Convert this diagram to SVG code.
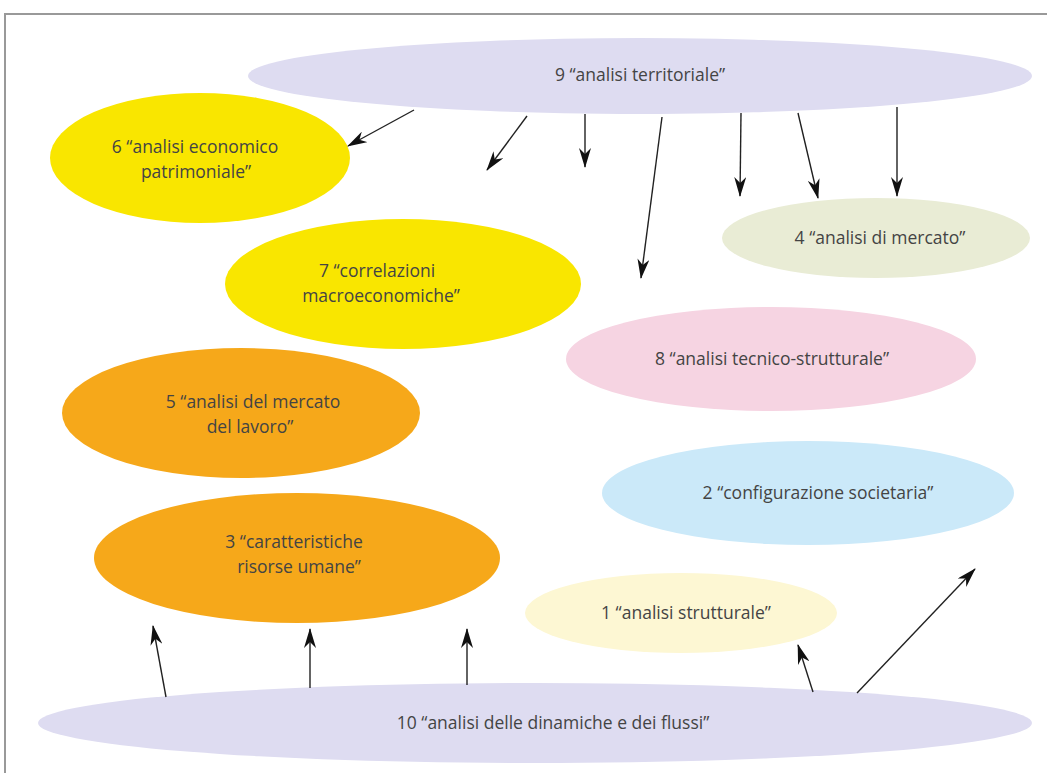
<svg xmlns="http://www.w3.org/2000/svg" width="1047" height="773" viewBox="0 0 1047 773">
<style>
.t{font-family:"Open Sans","DejaVu Sans",sans-serif;font-size:17.5px;fill:#444;text-anchor:middle}
.c{stroke:#222;stroke-width:1.4;fill:none;marker-end:url(#ah)}
</style>
<defs>
<marker id="ah" viewBox="0 0 20 12" refX="19" refY="6" markerWidth="20" markerHeight="12" markerUnits="userSpaceOnUse" orient="auto">
<path d="M0,0 L20,6 L0,12 L6,6 Z" fill="#111"/>
</marker>
</defs>
<rect width="1047" height="773" fill="#fff"/>
<path d="M5,773 V14 H1047" stroke="#999" stroke-width="2" fill="none"/>
<g id="n9"><ellipse cx="640" cy="76" rx="392" ry="38" fill="#dedcf1"/><text class="t" x="640" y="81">9 “analisi territoriale”</text></g>
<g id="n6"><ellipse cx="200" cy="158" rx="150" ry="65" fill="#f9e600"/><text class="t" x="195" y="153">6 “analisi economico</text><text class="t" x="196" y="178">patrimoniale”</text></g>
<g id="n7"><ellipse cx="403" cy="284" rx="178" ry="65" fill="#f9e600"/><text class="t" x="377" y="277">7 “correlazioni</text><text class="t" x="381" y="302">macroeconomiche”</text></g>
<g id="n4"><ellipse cx="876" cy="238" rx="154" ry="40" fill="#e9ecd5"/><text class="t" x="880" y="244">4 “analisi di mercato”</text></g>
<g id="n8"><ellipse cx="771" cy="359" rx="205" ry="52" fill="#f6d4e2"/><text class="t" x="772" y="365">8 “analisi tecnico-strutturale”</text></g>
<g id="n5"><ellipse cx="241" cy="413" rx="179" ry="65" fill="#f6a81a"/><text class="t" x="253" y="408">5 “analisi del mercato</text><text class="t" x="250" y="433">del lavoro”</text></g>
<g id="n2"><ellipse cx="808" cy="493" rx="206" ry="52" fill="#cbe9f9"/><text class="t" x="818" y="499">2 “configurazione societaria”</text></g>
<g id="n3"><ellipse cx="297" cy="558" rx="203" ry="65" fill="#f6a81a"/><text class="t" x="294" y="548">3 “caratteristiche</text><text class="t" x="299" y="573">risorse umane”</text></g>
<g id="n1"><ellipse cx="681" cy="613" rx="156" ry="40" fill="#fdf7d3"/><text class="t" x="686" y="619">1 “analisi strutturale”</text></g>
<g id="n10"><ellipse cx="535" cy="723" rx="497" ry="40" fill="#dedcf1"/><text class="t" x="553" y="729">10 “analisi delle dinamiche e dei flussi”</text></g>
<g id="connectors">
<line class="c" x1="414" y1="110" x2="348" y2="146"/>
<line class="c" x1="527" y1="116" x2="487" y2="170"/>
<line class="c" x1="585" y1="114" x2="585" y2="167"/>
<line class="c" x1="662" y1="117" x2="641" y2="278"/>
<line class="c" x1="741" y1="113" x2="740" y2="196"/>
<line class="c" x1="798" y1="113" x2="818" y2="198"/>
<line class="c" x1="897" y1="107" x2="897" y2="196"/>
<line class="c" x1="166" y1="697" x2="153" y2="626"/>
<line class="c" x1="310" y1="688" x2="310" y2="629"/>
<line class="c" x1="467" y1="685" x2="467" y2="629"/>
<line class="c" x1="813" y1="692" x2="798" y2="645"/>
<line class="c" x1="857" y1="693" x2="975" y2="569"/>
</g>
</svg>
